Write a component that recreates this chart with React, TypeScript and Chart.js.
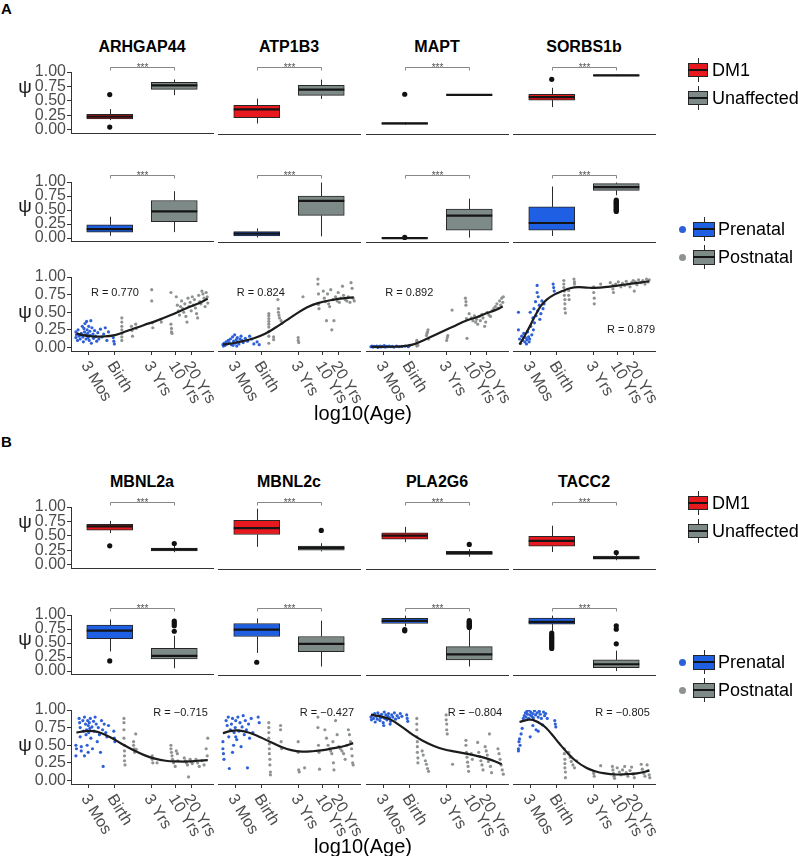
import React, { useEffect, useRef } from "react";
import { Chart, registerables } from "chart.js";

Chart.register(...registerables);

const FONT = "'Liberation Sans', Arial, Helvetica, sans-serif";

// ---------------- data ----------------
const GENES_A = ["ARHGAP44", "ATP1B3", "MAPT", "SORBS1b"];
const GENES_B = ["MBNL2a", "MBNL2c", "PLA2G6", "TACC2"];
const DM_GROUPS = ["DM1", "Unaffected"];
const DEV_GROUPS = ["Prenatal", "Postnatal"];
const Y_TICKS = [0, 0.25, 0.5, 0.75, 1];
const AGE_TICK_LABELS = ["3 Mos", "Birth", "3 Yrs", "10 Yrs", "20 Yrs"];
const AGE_TICK_VALUES = [1.954, 2.447, 3.138, 3.594, 3.88];
const AGE_MIN = 1.628;
const AGE_MAX = 4.288;

// box statistics: [lower whisker, q1, median, q3, upper whisker]
const DM1_BOX_A = [[0.17, 0.19, 0.23, 0.27, 0.36], [0.12, 0.22, 0.36, 0.43, 0.545], [0.10, 0.11, 0.12, 0.13, 0.14], [0.40, 0.52, 0.57, 0.62, 0.73]];
const DM1_OUT_A = [[0.61, 0.05], [], [0.62], [0.875]];
const UNAFF_BOX_A = [[0.60, 0.70, 0.77, 0.82, 0.87], [0.54, 0.60, 0.70, 0.77, 0.87], [0.60, 0.605, 0.61, 0.615, 0.62], [0.93, 0.935, 0.943, 0.95, 0.955]];
const UNAFF_OUT_A = [[], [], [], []];
const PRE_BOX_A = [[0.04, 0.106, 0.16, 0.235, 0.38], [0.02, 0.047, 0.088, 0.124, 0.18], [0.004, 0.007, 0.01, 0.013, 0.016], [0.047, 0.147, 0.276, 0.56, 0.92]];
const PRE_OUT_A = [[], [], [0.02], []];
const POST_BOX_A = [[0.106, 0.294, 0.476, 0.67, 0.835], [0.04, 0.41, 0.665, 0.753, 0.99], [0.018, 0.147, 0.406, 0.52, 0.706], [0.765, 0.853, 0.91, 0.97, 0.99]];
const POST_OUT_A = [[], [], [], [0.68, 0.66, 0.64, 0.62, 0.60, 0.58, 0.56, 0.54, 0.52, 0.50, 0.48]];

const DM1_BOX_B = [[0.55, 0.60, 0.665, 0.70, 0.76], [0.32, 0.53, 0.64, 0.77, 0.97], [0.40, 0.45, 0.51, 0.56, 0.66], [0.23, 0.33, 0.42, 0.50, 0.68]];
const DM1_OUT_B = [[0.33], [], [], []];
const UNAFF_BOX_B = [[0.22, 0.24, 0.27, 0.29, 0.33], [0.24, 0.26, 0.30, 0.33, 0.38], [0.15, 0.19, 0.21, 0.24, 0.28], [0.09, 0.11, 0.13, 0.16, 0.19]];
const UNAFF_OUT_B = [[0.37], [0.60], [0.36], [0.22]];
const PRE_BOX_B = [[0.35, 0.576, 0.72, 0.82, 0.92], [0.33, 0.62, 0.74, 0.85, 0.94], [0.80, 0.85, 0.895, 0.94, 0.99], [0.72, 0.84, 0.88, 0.947, 0.99]];
const PRE_OUT_B = [[0.18], [0.165], [0.72, 0.74], [0.41, 0.44, 0.47, 0.50, 0.53, 0.56, 0.59, 0.62, 0.65, 0.68]];
const POST_BOX_B = [[0.05, 0.218, 0.27, 0.406, 0.63], [0.09, 0.35, 0.49, 0.62, 0.90], [0.09, 0.206, 0.306, 0.44, 0.75], [0.01, 0.07, 0.13, 0.206, 0.37]];
const POST_OUT_B = [[0.71, 0.81, 0.85, 0.89], [], [0.78, 0.80, 0.82, 0.84, 0.86, 0.88, 0.90], [0.49, 0.75, 0.81]];

// psi vs log10(age) : [log10 age, psi]
const ARHGAP44_PRE = [[1.72,0.22],[1.72,0.14],[1.73,0.18],[1.75,0.10],[1.76,0.25],[1.78,0.16],[1.80,0.12],[1.82,0.20],[1.84,0.30],[1.85,0.15],[1.86,0.08],[1.87,0.27],[1.88,0.22],[1.89,0.34],[1.90,0.18],[1.91,0.12],[1.92,0.37],[1.93,0.25],[1.94,0.20],[1.95,0.14],[1.96,0.30],[1.97,0.10],[1.98,0.23],[1.99,0.17],[2.00,0.38],[2.01,0.06],[2.02,0.28],[2.04,0.19],[2.05,0.13],[2.07,0.24],[2.09,0.16],[2.11,0.09],[2.13,0.21],[2.15,0.12],[2.18,0.26],[2.21,0.15],[2.24,0.19],[2.27,0.28],[2.30,0.10],[2.33,0.22],[2.42,0.14],[2.43,0.09],[2.44,0.05]];
const ARHGAP44_POST = [[2.58,0.42],[2.58,0.36],[2.58,0.30],[2.58,0.25],[2.58,0.20],[2.58,0.15],[2.58,0.10],[2.76,0.30],[2.77,0.24],[2.78,0.16],[2.84,0.33],[2.85,0.27],[3.14,0.82],[3.14,0.66],[3.15,0.35],[3.16,0.28],[3.31,0.40],[3.32,0.36],[3.50,0.78],[3.50,0.33],[3.51,0.27],[3.51,0.22],[3.52,0.20],[3.60,0.72],[3.62,0.60],[3.64,0.52],[3.66,0.46],[3.68,0.58],[3.70,0.66],[3.72,0.55],[3.74,0.50],[3.76,0.62],[3.78,0.44],[3.80,0.36],[3.82,0.70],[3.84,0.58],[3.86,0.64],[3.88,0.52],[3.90,0.72],[3.92,0.60],[3.94,0.68],[3.96,0.56],[3.98,0.48],[4.00,0.42],[4.02,0.74],[4.04,0.65],[4.06,0.62],[4.08,0.80],[4.10,0.76],[4.12,0.70],[4.14,0.58],[4.16,0.78],[4.18,0.72],[4.19,0.63]];
const ARHGAP44_FIT = [[1.73,0.20],[1.85,0.175],[2.0,0.16],[2.2,0.155],[2.45,0.175],[2.7,0.24],[3.0,0.32],[3.2,0.37],[3.5,0.46],[3.8,0.56],[4.0,0.62],[4.19,0.69]];

const ATP1B3_PRE = [[1.72,0.04],[1.73,0.02],[1.74,0.06],[1.76,0.03],[1.78,0.08],[1.80,0.05],[1.82,0.10],[1.84,0.07],[1.86,0.12],[1.88,0.04],[1.90,0.15],[1.91,0.03],[1.92,0.09],[1.94,0.18],[1.95,0.06],[1.97,0.11],[1.98,0.02],[1.99,0.14],[2.00,0.08],[2.02,0.05],[2.04,0.12],[2.06,0.16],[2.08,0.10],[2.10,0.07],[2.14,0.13],[2.18,0.09],[2.22,0.16],[2.26,0.12],[2.30,0.05],[2.36,0.08],[2.40,0.04]];
const ATP1B3_POST = [[2.58,0.48],[2.58,0.45],[2.58,0.41],[2.58,0.37],[2.58,0.33],[2.58,0.29],[2.58,0.23],[2.58,0.16],[2.58,0.06],[2.67,0.15],[2.67,0.11],[2.75,0.68],[2.76,0.55],[2.76,0.50],[2.77,0.46],[2.78,0.42],[2.81,0.38],[2.82,0.34],[3.13,0.14],[3.13,0.10],[3.14,0.07],[3.22,0.72],[3.50,0.97],[3.50,0.90],[3.51,0.76],[3.51,0.61],[3.52,0.55],[3.60,0.80],[3.62,0.70],[3.64,0.65],[3.66,0.38],[3.68,0.76],[3.70,0.62],[3.72,0.58],[3.74,0.82],[3.76,0.25],[3.78,0.68],[3.80,0.38],[3.83,0.72],[3.86,0.66],[3.88,0.78],[3.90,0.64],[3.93,0.70],[3.96,0.87],[3.98,0.74],[4.01,0.68],[4.04,0.66],[4.07,0.72],[4.10,0.64],[4.12,0.92],[4.14,0.84],[4.16,0.70],[4.18,0.66]];
const ATP1B3_FIT = [[1.72,0.04],[1.9,0.06],[2.1,0.09],[2.3,0.13],[2.5,0.19],[2.7,0.28],[2.9,0.38],[3.1,0.48],[3.3,0.57],[3.5,0.63],[3.8,0.68],[4.0,0.70],[4.17,0.71]];

const MAPT_PRE = [[1.72,0.01],[1.74,0.02],[1.76,0.005],[1.78,0.015],[1.80,0.01],[1.83,0.02],[1.85,0.0],[1.87,0.012],[1.89,0.02],[1.91,0.008],[1.93,0.015],[1.95,0.01],[1.97,0.025],[1.99,0.005],[2.01,0.015],[2.03,0.01],[2.06,0.02],[2.09,0.01],[2.12,0.015],[2.15,0.005],[2.20,0.02],[2.25,0.01],[2.30,0.015],[2.36,0.02],[2.42,0.01],[2.45,0.03]];
const MAPT_POST = [[2.58,0.02],[2.58,0.05],[2.58,0.08],[2.58,0.10],[2.60,0.03],[2.76,0.17],[2.77,0.20],[2.78,0.22],[2.79,0.25],[2.80,0.12],[3.14,0.10],[3.15,0.14],[3.16,0.17],[3.24,0.53],[3.49,0.70],[3.50,0.65],[3.50,0.60],[3.51,0.41],[3.52,0.13],[3.56,0.48],[3.60,0.42],[3.63,0.38],[3.66,0.45],[3.68,0.36],[3.70,0.40],[3.72,0.33],[3.75,0.44],[3.77,0.38],[3.80,0.47],[3.82,0.42],[3.85,0.30],[3.87,0.36],[3.90,0.50],[3.93,0.46],[3.96,0.44],[3.99,0.52],[4.02,0.55],[4.05,0.58],[4.08,0.62],[4.10,0.56],[4.13,0.66],[4.15,0.60],[4.17,0.70],[4.19,0.64],[4.20,0.72]];
const MAPT_FIT = [[1.72,0.01],[2.0,0.01],[2.3,0.015],[2.5,0.04],[2.7,0.10],[2.9,0.17],[3.1,0.24],[3.3,0.31],[3.5,0.38],[3.7,0.43],[3.9,0.49],[4.05,0.53],[4.19,0.58]];

const SORBS1B_PRE = [[1.73,0.50],[1.73,0.25],[1.75,0.12],[1.77,0.06],[1.79,0.16],[1.81,0.10],[1.83,0.20],[1.85,0.08],[1.86,0.14],[1.88,0.05],[1.89,0.11],[1.90,0.22],[1.92,0.15],[1.93,0.08],[1.94,0.12],[1.95,0.50],[1.96,0.30],[1.98,0.18],[2.00,0.42],[2.01,0.25],[2.02,0.55],[2.03,0.35],[2.05,0.65],[2.06,0.45],[2.08,0.78],[2.09,0.52],[2.10,0.72],[2.12,0.60],[2.13,0.40],[2.15,0.48],[2.17,0.66],[2.19,0.55],[2.21,0.62],[2.38,0.90],[2.39,0.85],[2.40,0.80],[2.08,0.88]];
const SORBS1B_POST = [[2.58,0.95],[2.58,0.90],[2.58,0.85],[2.59,0.80],[2.59,0.74],[2.60,0.68],[2.60,0.62],[2.60,0.55],[2.61,0.49],[2.67,0.81],[2.67,0.74],[2.68,0.68],[2.77,0.97],[2.78,0.93],[2.78,0.90],[3.14,0.86],[3.14,0.78],[3.15,0.70],[3.15,0.62],[3.27,0.90],[3.45,0.92],[3.50,0.88],[3.50,0.83],[3.51,0.78],[3.55,0.90],[3.60,0.93],[3.65,0.86],[3.68,0.91],[3.72,0.88],[3.75,0.94],[3.78,0.90],[3.82,0.86],[3.85,0.92],[3.88,0.95],[3.90,0.80],[3.92,0.93],[3.95,0.89],[3.98,0.96],[4.03,0.92],[4.06,0.95],[4.10,0.90],[4.13,0.97],[4.16,0.93],[4.18,0.96]];
const SORBS1B_FIT = [[1.75,0.04],[1.85,0.17],[1.95,0.31],[2.05,0.46],[2.15,0.59],[2.26,0.68],[2.4,0.75],[2.55,0.80],[2.7,0.84],[2.85,0.855],[3.0,0.85],[3.15,0.845],[3.4,0.86],[3.7,0.89],[4.0,0.92],[4.18,0.94]];

const MBNL2A_PRE = [[1.72,0.35],[1.72,0.50],[1.73,0.45],[1.78,0.88],[1.79,0.82],[1.80,0.75],[1.80,0.62],[1.82,0.48],[1.82,0.42],[1.85,0.85],[1.86,0.70],[1.88,0.90],[1.88,0.35],[1.90,0.80],[1.91,0.65],[1.92,0.72],[1.93,0.50],[1.94,0.85],[1.95,0.78],[1.95,0.40],[1.96,0.68],[1.97,0.82],[1.98,0.74],[1.99,0.88],[2.00,0.60],[2.02,0.76],[2.03,0.45],[2.05,0.84],[2.06,0.70],[2.08,0.90],[2.10,0.80],[2.12,0.55],[2.14,0.75],[2.16,0.65],[2.18,0.40],[2.20,0.85],[2.22,0.72],[2.23,0.20],[2.25,0.80],[2.28,0.68],[2.30,0.62],[2.33,0.78],[2.43,0.70],[2.44,0.60],[2.45,0.55]];
const MBNL2A_POST = [[2.62,0.88],[2.62,0.82],[2.62,0.72],[2.62,0.60],[2.63,0.50],[2.63,0.42],[2.63,0.35],[2.63,0.28],[2.64,0.22],[2.80,0.55],[2.80,0.50],[2.81,0.45],[2.82,0.40],[2.84,0.66],[2.85,0.44],[3.15,0.35],[3.15,0.30],[3.16,0.25],[3.24,0.25],[3.50,0.50],[3.50,0.45],[3.51,0.40],[3.52,0.35],[3.53,0.30],[3.55,0.25],[3.58,0.20],[3.60,0.42],[3.62,0.38],[3.63,0.28],[3.75,0.32],[3.77,0.28],[3.79,0.25],[3.81,0.22],[3.83,0.05],[3.86,0.30],[3.88,0.27],[3.90,0.24],[3.97,0.30],[4.00,0.25],[4.03,0.20],[4.08,0.28],[4.12,0.22],[4.16,0.45],[4.18,0.35],[4.19,0.60]];
const MBNL2A_FIT = [[1.73,0.68],[1.9,0.70],[2.05,0.70],[2.2,0.67],[2.4,0.60],[2.6,0.51],[2.8,0.43],[3.0,0.36],[3.2,0.31],[3.4,0.28],[3.6,0.27],[3.85,0.27],[4.0,0.28],[4.19,0.29]];

const MBNL2C_PRE = [[1.72,0.55],[1.72,0.45],[1.73,0.38],[1.74,0.30],[1.78,0.85],[1.80,0.78],[1.82,0.90],[1.83,0.62],[1.84,0.17],[1.86,0.72],[1.88,0.80],[1.90,0.88],[1.90,0.40],[1.92,0.50],[1.93,0.68],[1.95,0.75],[1.96,0.85],[1.96,0.62],[1.98,0.58],[2.00,0.90],[2.02,0.70],[2.04,0.82],[2.06,0.48],[2.08,0.76],[2.10,0.92],[2.12,0.65],[2.14,0.85],[2.16,0.72],[2.18,0.18],[2.20,0.80],[2.22,0.60],[2.25,0.88],[2.28,0.68],[2.38,0.90],[2.40,0.82]];
const MBNL2C_POST = [[2.58,0.82],[2.58,0.75],[2.58,0.68],[2.58,0.60],[2.59,0.52],[2.59,0.45],[2.59,0.38],[2.60,0.30],[2.60,0.22],[2.61,0.12],[2.61,0.08],[2.80,0.78],[2.80,0.72],[2.81,0.55],[2.82,0.45],[3.13,0.55],[3.13,0.40],[3.14,0.15],[3.15,0.12],[3.25,0.18],[3.50,0.90],[3.50,0.75],[3.51,0.50],[3.52,0.40],[3.53,0.16],[3.63,0.72],[3.66,0.60],[3.69,0.50],[3.72,0.45],[3.74,0.42],[3.76,0.38],[3.78,0.55],[3.79,0.25],[3.80,0.15],[3.83,0.85],[3.86,0.65],[3.89,0.48],[3.92,0.45],[3.95,0.42],[3.98,0.38],[4.01,0.30],[4.04,0.50],[4.07,0.72],[4.09,0.65],[4.11,0.55],[4.13,0.45],[4.14,0.35],[4.15,0.25],[4.16,0.22]];
const MBNL2C_FIT = [[1.72,0.67],[1.85,0.70],[2.0,0.71],[2.2,0.68],[2.4,0.62],[2.6,0.55],[2.8,0.48],[3.0,0.43],[3.2,0.41],[3.4,0.415],[3.6,0.43],[3.8,0.46],[4.0,0.49],[4.16,0.53]];

const PLA2G6_PRE = [[1.72,0.90],[1.73,0.86],[1.75,0.93],[1.77,0.88],[1.79,0.95],[1.80,0.83],[1.82,0.91],[1.84,0.87],[1.85,0.96],[1.87,0.92],[1.89,0.85],[1.90,0.89],[1.92,0.94],[1.94,0.90],[1.95,0.82],[1.96,0.78],[1.97,0.97],[1.98,0.88],[2.00,0.93],[2.02,0.86],[2.04,0.91],[2.05,0.95],[2.07,0.89],[2.08,0.80],[2.09,0.84],[2.11,0.93],[2.13,0.90],[2.16,0.96],[2.18,0.87],[2.21,0.92],[2.24,0.89],[2.27,0.95],[2.30,0.91],[2.39,0.93],[2.40,0.88],[2.41,0.84]];
const PLA2G6_POST = [[2.58,0.88],[2.58,0.80],[2.58,0.72],[2.58,0.62],[2.59,0.55],[2.59,0.48],[2.59,0.40],[2.60,0.32],[2.60,0.25],[2.68,0.42],[2.70,0.36],[2.74,0.28],[2.76,0.23],[2.78,0.17],[2.80,0.13],[3.13,0.93],[3.13,0.86],[3.14,0.80],[3.14,0.72],[3.15,0.66],[3.25,0.23],[3.50,0.57],[3.50,0.50],[3.51,0.40],[3.52,0.33],[3.53,0.26],[3.54,0.20],[3.55,0.13],[3.60,0.38],[3.62,0.30],[3.72,0.54],[3.74,0.40],[3.76,0.34],[3.78,0.28],[3.80,0.22],[3.82,0.15],[3.86,0.48],[3.88,0.42],[3.90,0.36],[3.92,0.27],[3.94,0.66],[3.96,0.20],[3.98,0.11],[4.10,0.45],[4.12,0.38],[4.14,0.30],[4.16,0.22],[4.18,0.15],[4.20,0.09]];
const PLA2G6_FIT = [[1.72,0.93],[1.9,0.91],[2.1,0.86],[2.3,0.76],[2.5,0.65],[2.7,0.56],[2.9,0.49],[3.1,0.44],[3.3,0.41],[3.5,0.38],[3.7,0.35],[3.9,0.31],[4.05,0.27],[4.17,0.23]];

const TACC2_PRE = [[1.73,0.45],[1.73,0.42],[1.74,0.55],[1.75,0.59],[1.76,0.50],[1.78,0.66],[1.80,0.74],[1.82,0.88],[1.84,0.92],[1.86,0.96],[1.87,0.90],[1.89,0.98],[1.90,0.94],[1.92,0.88],[1.93,1.0],[1.95,0.93],[1.95,0.62],[1.96,0.97],[1.98,0.91],[2.00,0.95],[2.00,0.78],[2.01,0.89],[2.03,0.99],[2.05,0.93],[2.06,0.72],[2.08,0.96],[2.10,0.90],[2.10,0.70],[2.12,0.98],[2.14,0.94],[2.16,0.88],[2.18,0.79],[2.20,0.97],[2.22,0.92],[2.24,0.95],[2.27,0.88],[2.41,0.85],[2.42,0.80],[2.43,0.76]];
const TACC2_POST = [[2.59,0.45],[2.59,0.38],[2.60,0.30],[2.60,0.24],[2.60,0.18],[2.61,0.12],[2.61,0.04],[2.67,0.40],[2.70,0.33],[2.72,0.27],[2.75,0.22],[2.78,0.18],[2.82,0.28],[3.14,0.13],[3.14,0.10],[3.15,0.06],[3.27,0.21],[3.49,0.20],[3.50,0.15],[3.51,0.10],[3.52,0.06],[3.53,0.03],[3.58,0.18],[3.62,0.12],[3.65,0.08],[3.68,0.15],[3.72,0.20],[3.75,0.11],[3.78,0.06],[3.82,0.14],[3.85,0.19],[3.88,0.09],[3.90,0.04],[4.03,0.23],[4.05,0.16],[4.08,0.10],[4.10,0.06],[4.14,0.22],[4.16,0.14],[4.18,0.08],[4.19,0.04]];
const TACC2_FIT = [[1.75,0.83],[1.9,0.86],[2.0,0.86],[2.2,0.78],[2.35,0.66],[2.5,0.52],[2.65,0.39],[2.8,0.28],[3.0,0.18],[3.15,0.135],[3.35,0.10],[3.55,0.085],[3.75,0.09],[3.95,0.10],[4.18,0.14]];

const R_LABELS_A = ["R = 0.770", "R = 0.824", "R = 0.892", "R = 0.879"];
const R_LABELS_B = ["R = \u22120.715", "R = \u22120.427", "R = \u22120.804", "R = \u22120.805"];

// ---------------- layout / style ----------------
const R_POS_A = [[2.45, 0.78], [2.43, 0.78], [2.44, 0.78], [3.84, 0.245]];
const R_POS_B = [[3.68, 0.96], [3.67, 0.96], [3.67, 0.96], [3.68, 0.96]];
const AXIS = "#333333";
const TICK_TEXT = "#4d4d4d";
const RED = "#e8191e";
const GREY = "#7e8a88";
const BLUE = "#1e5fe3";
const PT_BLUE = "#2d60d8";
const PT_GREY = "#8e9392";
const PANEL_LEFTS = [71, 218, 366, 513];
const PANEL_W = 142;
const CANVAS_W = 71 + PANEL_W + 50;
const SECTION_TOPS = [0, 433];
const ROW_DM = { T: 72, B: 134, bracket: 5.5, psi: 16 };
const ROW_DEV = { T: 182, B: 242, bracket: 7.5, psi: 25 };
const ROW_AGE = { T: 277, B: 351, psi: 36 };
const BOX_PAD_TOP = 22;
const BOX_X_H = 10;
const AGE_PAD_TOP = 12;
const AGE_X_H = 72;
const TICK_SIZE = 16;

function drawPsi(chart: any, offset: number) {
  const { ctx, chartArea } = chart;
  ctx.save();
  ctx.font = `19px ${FONT}`;
  ctx.fillStyle = "#1a1a1a";
  ctx.textAlign = "center";
  ctx.textBaseline = "middle";
  ctx.fillText("\u03c8", 25, chartArea.top + offset);
  ctx.restore();
}

function yScale(show: boolean, min: number) {
  return {
    type: "linear",
    min,
    max: 1,
    display: show,
    afterBuildTicks: (s: any) => {
      s.ticks = Y_TICKS.map((v) => ({ value: v }));
    },
    afterFit: (s: any) => {
      if (show) s.width = 71;
    },
    ticks: {
      callback: (v: any) => Number(v).toFixed(2),
      font: { family: FONT, size: TICK_SIZE },
      color: TICK_TEXT,
      padding: 1,
      autoSkip: false,
    },
    grid: { display: true, drawOnChartArea: false, drawTicks: true, tickLength: 4, color: AXIS, lineWidth: 1 },
    border: { display: true, color: AXIS, width: 1 },
  };
}

function boxConfig(stats: number[][], outliers: number[][], colors: string[], showY: boolean, bracketGap: number, psiOffset: number) {
  const plugin = {
    id: "boxParts",
    beforeDatasetsDraw(chart: any) {
      const { ctx, scales } = chart;
      const x = scales.x;
      const y = scales.y;
      ctx.save();
      ctx.strokeStyle = "#2a2a2a";
      ctx.lineWidth = 1;
      stats.forEach((b, i) => {
        const px = Math.round(x.getPixelForValue(i + 1)) + 0.5;
        ctx.beginPath();
        ctx.moveTo(px, y.getPixelForValue(b[0]));
        ctx.lineTo(px, y.getPixelForValue(b[1]));
        ctx.moveTo(px, y.getPixelForValue(b[3]));
        ctx.lineTo(px, y.getPixelForValue(b[4]));
        ctx.stroke();
      });
      ctx.restore();
    },
    afterDatasetsDraw(chart: any) {
      const { ctx, scales } = chart;
      const x = scales.x;
      const y = scales.y;
      ctx.save();
      ctx.strokeStyle = "#151515";
      ctx.lineWidth = 2.2;
      stats.forEach((b, i) => {
        const px = x.getPixelForValue(i + 1);
        const py = y.getPixelForValue(b[2]);
        ctx.beginPath();
        ctx.moveTo(px - 23, py);
        ctx.lineTo(px + 23, py);
        ctx.stroke();
      });
      ctx.restore();
    },
    afterDraw(chart: any) {
      const { ctx, scales, chartArea } = chart;
      const x = scales.x;
      const x1 = Math.round(x.getPixelForValue(1)) + 0.5;
      const x2 = Math.round(x.getPixelForValue(2)) + 0.5;
      const yl = Math.round(chartArea.top - bracketGap) + 0.5;
      ctx.save();
      ctx.strokeStyle = "#6a6a6a";
      ctx.lineWidth = 0.8;
      ctx.beginPath();
      ctx.moveTo(x1, yl + 3);
      ctx.lineTo(x1, yl);
      ctx.lineTo(x2, yl);
      ctx.lineTo(x2, yl + 3);
      ctx.stroke();
      ctx.fillStyle = "#555555";
      ctx.font = `10px ${FONT}`;
      ctx.textAlign = "center";
      ctx.textBaseline = "alphabetic";
      ctx.fillText("***", (x1 + x2) / 2, yl + 3);
      ctx.restore();
      if (showY) drawPsi(chart, psiOffset);
    },
  };
  const outPts: any[] = [];
  outliers.forEach((arr, i) => arr.forEach((v) => outPts.push({ x: i + 1, y: v })));
  return {
    type: "bar",
    data: {
      datasets: [
        {
          type: "scatter",
          data: outPts,
          pointRadius: 2.6,
          backgroundColor: "#111111",
          borderWidth: 0,
          order: 0,
        },
        {
          type: "bar",
          data: stats.map((s, i) => ({ x: i + 1, y: [s[1], s[3]] })),
          backgroundColor: colors,
          borderColor: "#262626",
          borderWidth: 1,
          borderSkipped: false,
          barThickness: 46,
          order: 1,
        },
      ],
    },
    options: {
      animation: false,
      responsive: false,
      devicePixelRatio: 1,
      events: [],
      layout: { padding: { top: BOX_PAD_TOP, left: showY ? 0 : 71, right: CANVAS_W - 71 - PANEL_W, bottom: 0 } },
      plugins: { legend: { display: false }, tooltip: { enabled: false } },
      scales: {
        x: {
          type: "linear",
          min: 0.4,
          max: 2.6,
          offset: false,
          ticks: { display: false },
          grid: { display: false },
          border: { display: true, color: AXIS, width: 1 },
          afterFit: (s: any) => {
            s.height = BOX_X_H;
          },
        },
        y: yScale(showY, -0.06),
      },
    },
    plugins: [plugin],
  };
}

function ageConfig(pre: number[][], post: number[][], fit: number[][], showY: boolean, rText: string, rPos: number[], psiOffset: number) {
  const plugin = {
    id: "ageLabels",
    afterDraw(chart: any) {
      const { ctx, scales, chartArea } = chart;
      const x = scales.x;
      const y = scales.y;
      ctx.save();
      ctx.font = `${TICK_SIZE}px ${FONT}`;
      ctx.fillStyle = TICK_TEXT;
      ctx.textAlign = "left";
      ctx.textBaseline = "middle";
      AGE_TICK_VALUES.forEach((v, i) => {
        const px = x.getPixelForValue(v);
        ctx.save();
        ctx.translate(px - 4, chartArea.bottom + 12);
        ctx.rotate((58 * Math.PI) / 180);
        ctx.fillText(AGE_TICK_LABELS[i], 0, 0);
        ctx.restore();
      });
      ctx.font = `11px ${FONT}`;
      ctx.fillStyle = "#1a1a1a";
      ctx.textAlign = "center";
      ctx.fillText(rText, x.getPixelForValue(rPos[0]), y.getPixelForValue(rPos[1]));
      ctx.restore();
      if (showY) drawPsi(chart, psiOffset);
    },
  };
  return {
    type: "scatter",
    data: {
      datasets: [
        {
          type: "line",
          data: fit.map(([a, b]) => ({ x: a, y: b })),
          borderColor: "#1c1c1c",
          borderWidth: 2.2,
          pointRadius: 0,
          tension: 0.4,
          fill: false,
          order: 0,
        },
        {
          type: "scatter",
          data: pre.map(([a, b]) => ({ x: a, y: b })),
          pointRadius: 1.6,
          backgroundColor: PT_BLUE,
          borderWidth: 0,
          order: 1,
        },
        {
          type: "scatter",
          data: post.map(([a, b]) => ({ x: a, y: b })),
          pointRadius: 1.6,
          backgroundColor: PT_GREY,
          borderWidth: 0,
          order: 2,
        },
      ],
    },
    options: {
      animation: false,
      responsive: false,
      devicePixelRatio: 1,
      events: [],
      layout: { padding: { top: AGE_PAD_TOP, left: showY ? 0 : 71, right: CANVAS_W - 71 - PANEL_W, bottom: 0 } },
      plugins: { legend: { display: false }, tooltip: { enabled: false } },
      scales: {
        x: {
          type: "linear",
          min: AGE_MIN,
          max: AGE_MAX,
          afterBuildTicks: (s: any) => {
            s.ticks = AGE_TICK_VALUES.map((v) => ({ value: v }));
          },
          ticks: { display: false },
          grid: { display: true, drawOnChartArea: false, drawTicks: true, tickLength: 4, color: AXIS, lineWidth: 1 },
          border: { display: true, color: AXIS, width: 1 },
          afterFit: (s: any) => {
            s.height = AGE_X_H;
          },
        },
        y: yScale(showY, -0.05),
      },
    },
    plugins: [plugin],
  };
}

function ChartCanvas({ left, top, width, height, config }: any) {
  const ref = useRef<HTMLCanvasElement>(null);
  useEffect(() => {
    const chart = new Chart(ref.current as HTMLCanvasElement, config);
    return () => chart.destroy();
  }, []);
  return (
    <canvas
      ref={ref}
      width={width}
      height={height}
      style={{ position: "absolute", left, top, width, height }}
    />
  );
}

function Txt({ x, y, children, size, bold, align, color }: any) {
  const tx = align === "left" ? "0" : "-50%";
  return (
    <div
      style={{
        position: "absolute",
        left: x,
        top: y,
        transform: `translate(${tx}, -50%)`,
        fontFamily: FONT,
        fontSize: size,
        fontWeight: bold ? 700 : 400,
        lineHeight: 1,
        whiteSpace: "nowrap",
        color: color || "#000",
      }}
    >
      {children}
    </div>
  );
}

function BoxKey({ x, y, w, h, color }: any) {
  return (
    <>
      <div style={{ position: "absolute", left: x + w / 2 - 0.5, top: y - 12, width: 1, height: 24, background: "#2a2a2a" }} />
      <div
        style={{
          position: "absolute",
          left: x,
          top: y - h / 2,
          width: w,
          height: h,
          boxSizing: "border-box",
          background: color,
          border: "1px solid #262626",
        }}
      />
      <div style={{ position: "absolute", left: x, top: y - 1, width: w, height: 2, background: "#151515" }} />
    </>
  );
}

function Dot({ x, y, color }: any) {
  return (
    <div
      style={{
        position: "absolute",
        left: x - 3.5,
        top: y - 3.5,
        width: 7,
        height: 7,
        borderRadius: "50%",
        background: color,
      }}
    />
  );
}

function Section({ s, row1Shift, letter, genes, dm1, dm1Out, unaff, unaffOut, pre, preOut, post, postOut, scatter, rLabels, rPos }: any) {
  const charts: any[] = [];
  genes.forEach((g: string, i: number) => {
    const left = PANEL_LEFTS[i] - 71;
    const showY = i === 0;
    const stats1 = [dm1[i], unaff[i]];
    const out1 = [dm1Out[i], unaffOut[i]];
    charts.push(
      <ChartCanvas
        key={`dm-${g}`}
        left={left}
        top={s + row1Shift + ROW_DM.T - BOX_PAD_TOP}
        width={CANVAS_W}
        height={BOX_PAD_TOP + ROW_DM.B - ROW_DM.T + BOX_X_H}
        config={boxConfig(stats1, out1, [RED, GREY], showY, ROW_DM.bracket, ROW_DM.psi)}
      />
    );
    const stats2 = [pre[i], post[i]];
    const out2 = [preOut[i], postOut[i]];
    charts.push(
      <ChartCanvas
        key={`dev-${g}`}
        left={left}
        top={s + ROW_DEV.T - BOX_PAD_TOP}
        width={CANVAS_W}
        height={BOX_PAD_TOP + ROW_DEV.B - ROW_DEV.T + BOX_X_H}
        config={boxConfig(stats2, out2, [BLUE, GREY], showY, ROW_DEV.bracket, ROW_DEV.psi)}
      />
    );
    const sc = scatter[i];
    charts.push(
      <ChartCanvas
        key={`age-${g}`}
        left={left}
        top={s + ROW_AGE.T - AGE_PAD_TOP}
        width={CANVAS_W}
        height={AGE_PAD_TOP + ROW_AGE.B - ROW_AGE.T + AGE_X_H}
        config={ageConfig(sc[0], sc[1], sc[2], showY, rLabels[i], rPos[i], ROW_AGE.psi)}
      />
    );
  });
  return (
    <>
      <Txt x={1} y={s + 8} size={15} bold align="left">
        {letter}
      </Txt>
      {genes.map((g: string, i: number) => (
        <Txt key={g} x={PANEL_LEFTS[i] + PANEL_W / 2} y={s + row1Shift + 47} size={16} bold>
          {g}
        </Txt>
      ))}
      {charts}
      <BoxKey x={688} y={s + 70} w={20} h={14} color={RED} />
      <Txt x={712} y={s + 70} size={18} align="left">{DM_GROUPS[0]}</Txt>
      <BoxKey x={688} y={s + 98} w={20} h={14} color={GREY} />
      <Txt x={712} y={s + 98} size={18} align="left">{DM_GROUPS[1]}</Txt>
      <Dot x={682} y={s + 229} color={PT_BLUE} />
      <BoxKey x={693} y={s + 229} w={22} h={15} color={BLUE} />
      <Txt x={718} y={s + 229} size={18} align="left">{DEV_GROUPS[0]}</Txt>
      <Dot x={682} y={s + 257} color={PT_GREY} />
      <BoxKey x={693} y={s + 257} w={22} h={15} color={GREY} />
      <Txt x={718} y={s + 257} size={18} align="left">{DEV_GROUPS[1]}</Txt>
      <Txt x={363} y={s + 413} size={20}>log10(Age)</Txt>
    </>
  );
}

export default function App() {
  return (
    <div
      style={{
        position: "absolute",
        left: 0,
        top: 0,
        width: 798,
        height: 856,
        background: "#ffffff",
        overflow: "hidden",
        fontFamily: FONT,
      }}
    >
      <Section
        s={SECTION_TOPS[0]}
        row1Shift={0}
        letter="A"
        genes={GENES_A}
        dm1={DM1_BOX_A}
        dm1Out={DM1_OUT_A}
        unaff={UNAFF_BOX_A}
        unaffOut={UNAFF_OUT_A}
        pre={PRE_BOX_A}
        preOut={PRE_OUT_A}
        post={POST_BOX_A}
        postOut={POST_OUT_A}
        scatter={[
          [ARHGAP44_PRE, ARHGAP44_POST, ARHGAP44_FIT],
          [ATP1B3_PRE, ATP1B3_POST, ATP1B3_FIT],
          [MAPT_PRE, MAPT_POST, MAPT_FIT],
          [SORBS1B_PRE, SORBS1B_POST, SORBS1B_FIT],
        ]}
        rLabels={R_LABELS_A}
        rPos={R_POS_A}
      />
      <Section
        s={SECTION_TOPS[1]}
        row1Shift={2}
        letter="B"
        genes={GENES_B}
        dm1={DM1_BOX_B}
        dm1Out={DM1_OUT_B}
        unaff={UNAFF_BOX_B}
        unaffOut={UNAFF_OUT_B}
        pre={PRE_BOX_B}
        preOut={PRE_OUT_B}
        post={POST_BOX_B}
        postOut={POST_OUT_B}
        scatter={[
          [MBNL2A_PRE, MBNL2A_POST, MBNL2A_FIT],
          [MBNL2C_PRE, MBNL2C_POST, MBNL2C_FIT],
          [PLA2G6_PRE, PLA2G6_POST, PLA2G6_FIT],
          [TACC2_PRE, TACC2_POST, TACC2_FIT],
        ]}
        rLabels={R_LABELS_B}
        rPos={R_POS_B}
      />
    </div>
  );
}
